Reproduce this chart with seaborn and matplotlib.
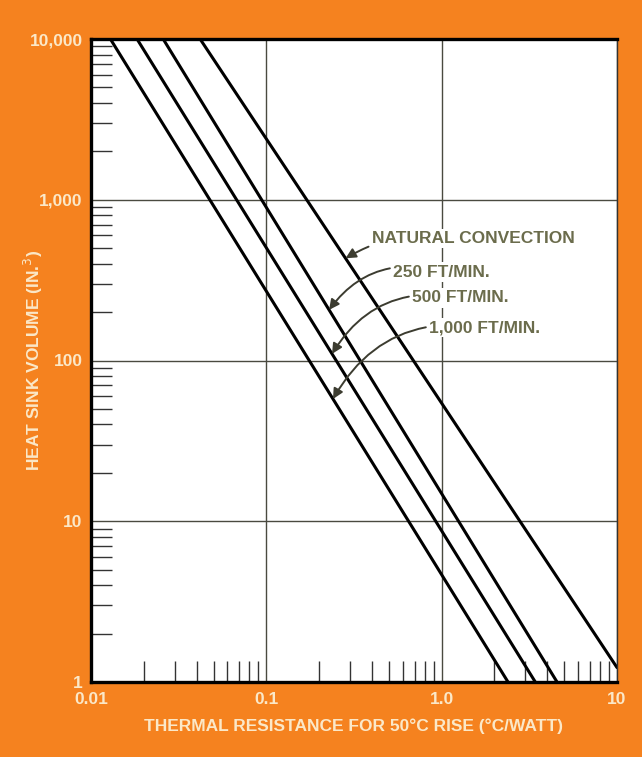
import numpy as np
import pandas as pd
import matplotlib
matplotlib.use("Agg")
import matplotlib.pyplot as plt
import seaborn as sns
from matplotlib.ticker import LogLocator, FixedLocator, NullFormatter

# endpoints (x = thermal resistance, y = volume)
series_names = ["NATURAL CONVECTION", "250 FT/MIN.", "500 FT/MIN.", "1,000 FT/MIN."]
x_start = [0.0419, 0.0258, 0.0183, 0.0129]
y_start = [10000, 10000, 10000, 10000]
x_end = [10.0, 4.55, 3.42, 2.39]
y_end = [1.23, 1.0, 1.0, 1.0]

x_ticks = [0.01, 0.1, 1.0, 10]
x_ticklabels = ["0.01", "0.1", "1.0", "10"]
y_ticks = [1, 10, 100, 1000, 10000]
y_ticklabels = ["1", "10", "100", "1,000", "10,000"]

# label text position and arrow target x for each line
label_text = ["NATURAL CONVECTION", "250 FT/MIN.", "500 FT/MIN.", "1,000 FT/MIN."]
label_x = [0.40, 0.53, 0.68, 0.85]
label_y = [575, 355, 245, 160]
arrow_x = [0.283, 0.228, 0.237, 0.240]

rows = []
for name, x0, y0, x1, y1 in zip(series_names, x_start, y_start, x_end, y_end):
    rows.append({"series": name, "x": x0, "y": y0})
    rows.append({"series": name, "x": x1, "y": y1})
df = pd.DataFrame(rows)

orange = "#f5821f"
cream = "#fbe8c8"
olive = "#6b6c4c"

sns.set_style("white")
plt.rcParams["font.family"] = ["Liberation Sans", "DejaVu Sans"]

fig = plt.figure(figsize=(6.42, 7.57), dpi=100, facecolor=orange)
ax = fig.add_axes([91 / 642, 1 - 682 / 757, 526 / 642, 643 / 757])
ax.set_facecolor("white")

sns.lineplot(data=df, x="x", y="y", units="series", estimator=None,
             color="black", linewidth=2.2, ax=ax, legend=False)

ax.set_xscale("log")
ax.set_yscale("log")
ax.set_xlim(0.01, 10)
ax.set_ylim(1, 10000)

# major grid
ax.xaxis.set_major_locator(FixedLocator(x_ticks))
ax.yaxis.set_major_locator(FixedLocator(y_ticks))
ax.set_xticklabels(x_ticklabels)
ax.set_yticklabels(y_ticklabels)
ax.grid(True, which="major", color="#4a4a40", linewidth=1.0)
ax.tick_params(which="major", length=0, labelsize=12.5, labelcolor=cream)
ax.tick_params(axis="y", which="major", pad=6)
ax.tick_params(axis="x", which="major", pad=7)
for lab in ax.get_xticklabels() + ax.get_yticklabels():
    lab.set_fontweight("bold")

# minor ticks inside
ax.xaxis.set_minor_locator(LogLocator(base=10, subs=np.arange(2, 10)))
ax.yaxis.set_minor_locator(LogLocator(base=10, subs=np.arange(2, 10)))
ax.xaxis.set_minor_formatter(NullFormatter())
ax.yaxis.set_minor_formatter(NullFormatter())
ax.tick_params(which="minor", direction="in", length=15, width=1.0,
               color="#333333", left=True, bottom=True)

for side in ["left", "bottom", "top"]:
    ax.spines[side].set_linewidth(2.4)
    ax.spines[side].set_color("black")
ax.spines["right"].set_linewidth(1.0)
ax.spines["right"].set_color("#333333")

ax.set_xlabel("THERMAL RESISTANCE FOR 50°C RISE (°C/WATT)", color=cream,
              fontsize=12.5, fontweight="bold")
ax.xaxis.set_label_coords(0.5, -0.056)
ax.set_ylabel("HEAT SINK VOLUME (IN.$^{3}$)", color=cream,
              fontsize=12.5, fontweight="bold")
ax.yaxis.set_label_coords(-0.088, 0.5)

# annotations with curved arrows onto the lines
for i, txt in enumerate(label_text):
    lx0, ly0 = np.log10(x_start[i]), np.log10(y_start[i])
    lx1, ly1 = np.log10(x_end[i]), np.log10(y_end[i])
    t = (np.log10(arrow_x[i]) - lx0) / (lx1 - lx0)
    ay = 10 ** (ly0 + t * (ly1 - ly0))
    rad = 0.2 if i == 0 else 0.35
    ax.annotate(txt, xy=(arrow_x[i], ay), xytext=(label_x[i], label_y[i]),
                fontsize=12.5, fontweight="bold", color=olive,
                ha="left", va="center",
                bbox=dict(boxstyle="square,pad=0.12", fc="white", ec="none"),
                arrowprops=dict(arrowstyle="-|>", color="#3c3c30", lw=1.4,
                                mutation_scale=15,
                                connectionstyle=f"arc3,rad={rad}",
                                shrinkA=1, shrinkB=0))

fig.savefig("out.png", dpi=100, facecolor=orange)
